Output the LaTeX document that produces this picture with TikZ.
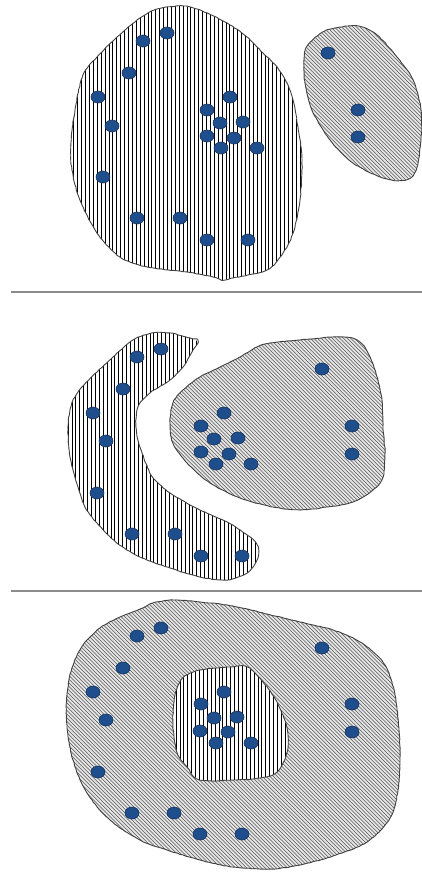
\documentclass[tikz,border=0pt]{standalone}
\usepackage{xcolor}
\definecolor{cCell}{HTML}{1F4E8C}
\definecolor{cCellEdge}{HTML}{16345E}
\definecolor{cLine}{HTML}{404040}
\definecolor{cHatch}{HTML}{555555}
\definecolor{cShade}{HTML}{E6E6E6}
\definecolor{cSep}{HTML}{8C8C8C}
\usepackage{tikz}
\usetikzlibrary{decorations.pathmorphing}
\tikzset{
  blob-edge/.style={draw=cLine,line width=0.9pt,
    decorate,decoration={random steps,segment length=3pt,amplitude=0.3pt}},
  hatch-vert/.style={draw=black,line width=0.6pt},
  hatch-diag/.style={draw=cHatch,line width=0.55pt},
  cell-dot/.style={fill=cCell,draw=cCellEdge,line width=0.6pt},
  sep-line/.style={draw=cSep,line width=1.4pt},
}
% outlines in image pixels, y going down
\def\blobBig{plot[smooth cycle,tension=0.55] coordinates {(177,6) (157,9)
  (140,18) (117,37) (97,57) (83,75) (75,110) (71,143) (72,170) (80,200)
  (97,233) (120,257) (147,267) (187,272) (213,277) (222,280) (233,278)
  (267,270) (283,253) (293,233) (300,200) (302,160) (298,127) (293,100)
  (287,83) (277,67) (263,53) (247,37) (227,23) (207,13) (190,7)}}
\def\blobSmall{plot[smooth cycle,tension=0.55] coordinates {(348,26)
  (325,31) (308,45) (304,60) (305,83) (312,110) (330,140) (353,163)
  (383,178) (405,180) (416,170) (421,140) (421,110) (413,80) (397,57)
  (377,35) (362,27)}}
\def\blobCurve{plot[smooth cycle,tension=0.5] coordinates {(198,342)
  (190,338) (170,333) (152,333) (133,340) (113,357) (97,372) (82,387)
  (72,403) (68,427) (70,457) (77,484) (85,507) (97,523) (117,543)
  (140,557) (170,568) (200,577) (227,580) (247,573) (257,560) (258,547)
  (250,537) (227,522) (200,510) (173,495) (158,483) (150,473) (140,447)
  (136,427) (138,407) (150,393) (170,380) (183,367) (192,352)}}
\def\blobRound{plot[smooth cycle,tension=0.55] coordinates {(270,343)
  (300,340) (333,337) (352,338) (362,344) (370,357) (377,377) (382,400)
  (383,427) (385,453) (383,477) (373,490) (353,502) (327,507) (300,510)
  (273,507) (240,498) (210,483) (187,463) (173,443) (170,423) (173,403)
  (183,390) (200,377) (220,367) (240,357) (257,347)}}
\def\blobOuter{plot[smooth cycle,tension=0.55] coordinates {(153,603)
  (173,600) (200,602) (233,606) (267,614) (300,622) (333,630) (362,643)
  (385,665) (395,695) (399,730) (400,760) (398,790) (390,818) (367,842)
  (333,856) (300,865) (270,869) (233,867) (200,860) (167,850) (140,840)
  (110,820) (87,793) (73,760) (67,725) (67,695) (72,668) (83,645)
  (100,628) (120,617) (140,609)}}
\def\blobInner{plot[smooth cycle,tension=0.55] coordinates {(183,678)
  (200,670) (230,667) (247,667) (263,682) (277,702) (287,728) (287,752)
  (277,772) (260,778) (233,780) (200,780) (187,767) (177,752) (173,725)
  (175,695)}}
% hatching: #1 xmin, #2 xmax, #3 ymin, #4 ymax
\newcommand{\hatchVert}[4]{%
  \pgfmathsetmacro\hatchNext{#1+3.9}%
  \foreach \hx in {#1,\hatchNext,...,#2} \draw[hatch-vert] (\hx,#3) -- (\hx,#4);}
\newcommand{\hatchDiag}[4]{%
  \pgfmathsetmacro\hatchLen{#4-#3}%
  \pgfmathsetmacro\hatchFrom{#1-\hatchLen}%
  \pgfmathsetmacro\hatchNext{\hatchFrom+3.7}%
  \foreach \hx in {\hatchFrom,\hatchNext,...,#2}
    \draw[hatch-diag] (\hx,#3) -- ++(\hatchLen,\hatchLen);}

\begin{document}
\begin{tikzpicture}[x=1pt,y=-1pt]
  \pgfmathsetseed{7}
  \useasboundingbox (0,0) rectangle (422,873);

  % top: two separate regions
  \begin{scope}
    \clip \blobBig;
    \hatchVert{62}{310}{0}{290}
  \end{scope}
  \draw[blob-edge] \blobBig;
  \fill[cShade] \blobSmall;
  \begin{scope}
    \clip \blobSmall;
    \hatchDiag{300}{424}{20}{185}
  \end{scope}
  \draw[blob-edge] \blobSmall;
  \foreach \cx/\cy in {143/41,167/33,129/73,98/97,112/126,103/177,137/218,
      180/218,207/240,248/240,230/97,207/110,220/123,243/122,207/136,
      234/138,221/148,257/148,328/53,358/110,358/137}
    \filldraw[cell-dot] (\cx,\cy) ellipse (7 and 6);

  \draw[sep-line] (11,292) -- (422,292);

  % middle: curved band beside a round region
  \begin{scope}
    \clip \blobCurve;
    \hatchVert{64}{262}{330}{585}
  \end{scope}
  \draw[blob-edge] \blobCurve;
  \fill[cShade] \blobRound;
  \begin{scope}
    \clip \blobRound;
    \hatchDiag{165}{390}{335}{515}
  \end{scope}
  \draw[blob-edge] \blobRound;
  \foreach \cx/\cy in {161/349,137/357,123/389,93/413,106/441,97/493,
      132/534,175/534,201/556,242/556,322/369,224/413,201/426,214/439,
      238/438,201/452,229/454,216/464,251/464,352/426,352/454}
    \filldraw[cell-dot] (\cx,\cy) ellipse (7 and 6);

  \draw[sep-line] (11,591) -- (422,591);

  % bottom: one region inside the other
  \fill[cShade] \blobOuter;
  \begin{scope}
    \clip \blobOuter;
    \hatchDiag{62}{404}{596}{872}
  \end{scope}
  \fill[white] \blobInner;
  \begin{scope}
    \clip \blobInner;
    \hatchVert{172}{290}{664}{784}
  \end{scope}
  \draw[blob-edge] \blobOuter;
  \draw[blob-edge] \blobInner;
  \foreach \cx/\cy in {161/628,137/636,123/668,93/692,106/720,98/772,
      132/813,174/813,200/834,242/834,322/648,352/704,352/732,224/692,
      201/704,214/718,237/717,200/731,228/732,216/743,251/743}
    \filldraw[cell-dot] (\cx,\cy) ellipse (7 and 6);
\end{tikzpicture}
\end{document}
